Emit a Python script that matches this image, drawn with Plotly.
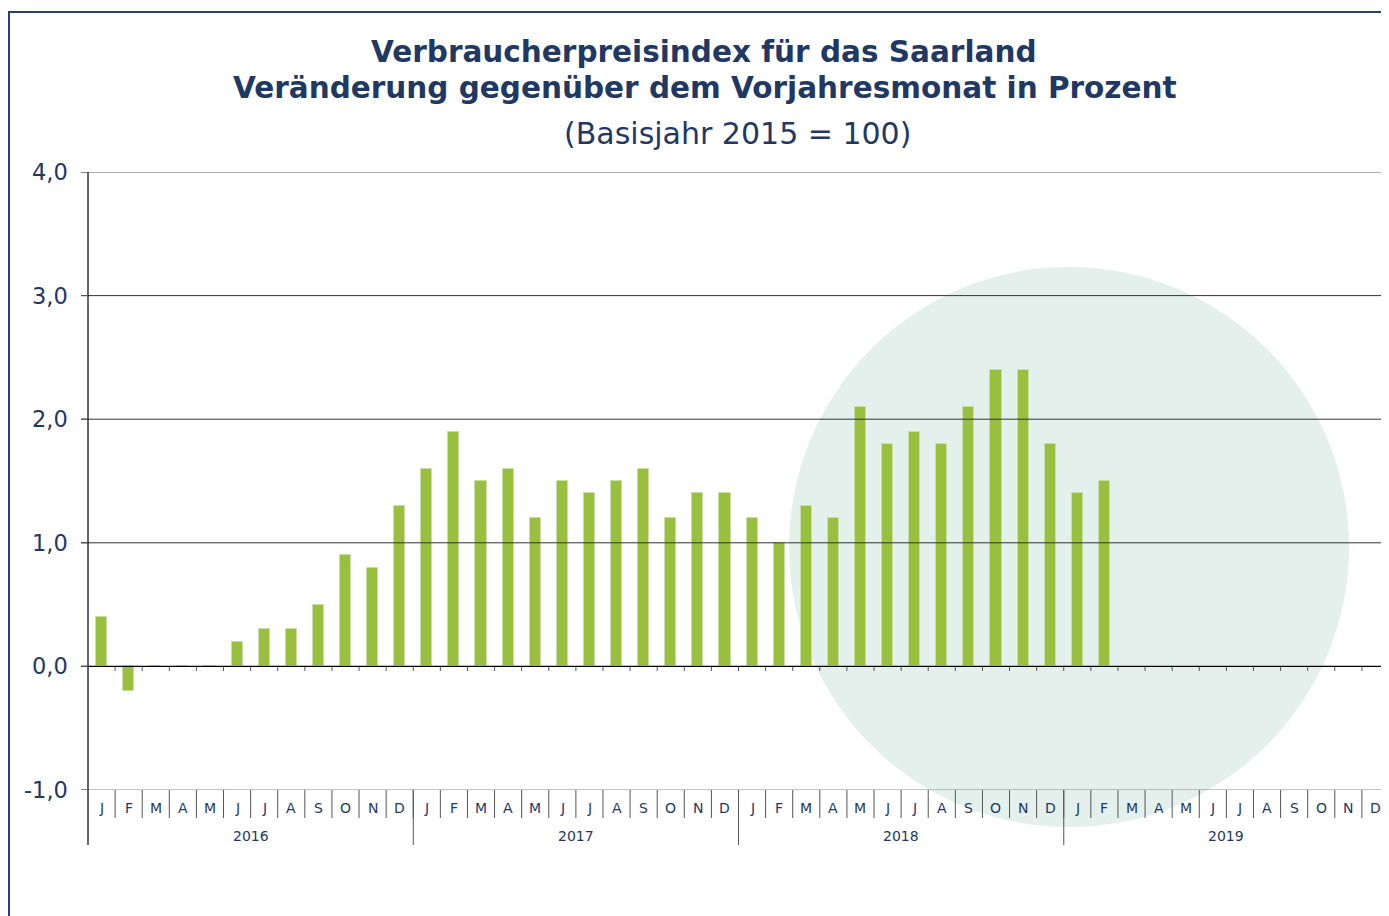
import plotly.graph_objects as go

months = ["J", "F", "M", "A", "M", "J", "J", "A", "S", "O", "N", "D"]
years = ["2016", "2017", "2018", "2019"]
values = [
    0.4, -0.2, 0.0, 0.0, 0.0, 0.2, 0.3, 0.3, 0.5, 0.9, 0.8, 1.3,
    1.6, 1.9, 1.5, 1.6, 1.2, 1.5, 1.4, 1.5, 1.6, 1.2, 1.4, 1.4,
    1.2, 1.0, 1.3, 1.2, 2.1, 1.8, 1.9, 1.8, 2.1, 2.4, 2.4, 1.8,
    1.4, 1.5, None, None, None, None, None, None, None, None, None, None,
]
y_ticks = [-1, 0, 1, 2, 3, 4]
y_labels = ["-1,0", "0,0", "1,0", "2,0", "3,0", "4,0"]

NAVY = "#1f3864"
OFF = 8  # page body margin offset (screen px -> figure px)
W, H = 1389 - OFF, 916 - OFF
L, R, T = 88 - OFF, 0, 172 - OFF
B = H - (790 - OFF)
PW = W - L - R
PH = H - T - B

def py(px):  # screen pixel y -> paper y
    return (H - B - (px - OFF)) / PH

def pxx(px):  # screen pixel x -> paper x
    return ((px - OFF) - L) / PW

n = len(values)
xs = [i + 0.5 for i in range(n)]

fig = go.Figure()
fig.add_trace(go.Bar(
    x=xs, y=values, width=0.41,
    marker=dict(color="#99bf3f", line=dict(color="#c8dfa6", width=1)),
    hoverinfo="skip",
))

shapes = []
shapes.append(dict(type="circle", xref="paper", yref="paper", layer="below",
                   x0=pxx(789), x1=pxx(1349), y0=py(827), y1=py(267),
                   fillcolor="#e4f0ec", line=dict(width=0)))
shapes.append(dict(type="rect", xref="paper", yref="paper", layer="above",
                   x0=pxx(9), x1=pxx(1420), y0=py(960), y1=py(12),
                   line=dict(color="#2b3f6b", width=2), fillcolor="rgba(0,0,0,0)"))
for v in [1, 2, 3, 4]:
    shapes.append(dict(type="line", xref="paper", yref="y", layer="above" if v < 4 else "below",
                       x0=pxx(81), x1=1.0, y0=v, y1=v,
                       line=dict(color="#333333" if v < 4 else "#666666", width=1)))
shapes.append(dict(type="line", xref="paper", yref="y", layer="above",
                   x0=pxx(81), x1=1.0, y0=0, y1=0, line=dict(color="#000000", width=1.2)))
shapes.append(dict(type="line", xref="paper", yref="y", layer="above",
                   x0=pxx(81), x1=1.0, y0=-1, y1=-1, line=dict(color="#888888", width=1.2)))
shapes.append(dict(type="line", xref="paper", yref="paper", layer="above",
                   x0=0, x1=0, y0=py(845), y1=1.0, line=dict(color="#000000", width=1.2)))
for v in y_ticks:
    shapes.append(dict(type="line", xref="paper", yref="y", layer="above",
                       x0=pxx(81), x1=0, y0=v, y1=v, line=dict(color="#555555", width=1)))
for i in range(1, n + 1):
    shapes.append(dict(type="line", xref="x", yref="paper", layer="above",
                       x0=i, x1=i, y0=py(818), y1=py(790), line=dict(color="#555555", width=1)))
    shapes.append(dict(type="line", xref="x", yref="paper", layer="above",
                       x0=i, x1=i, y0=py(671), y1=py(667), line=dict(color="#555555", width=1)))
for k in range(1, len(years)):
    shapes.append(dict(type="line", xref="x", yref="paper", layer="above",
                       x0=12 * k, x1=12 * k, y0=py(845), y1=py(790), line=dict(color="#555555", width=1)))

annotations = []
for i in range(n):
    annotations.append(dict(x=i + 0.5, y=py(808), xref="x", yref="paper", text=months[i % 12],
                            showarrow=False, font=dict(family="DejaVu Sans", size=14, color=NAVY),
                            xanchor="center", yanchor="middle"))
for k, yr in enumerate(years):
    annotations.append(dict(x=12 * k + 6, y=py(836), xref="x", yref="paper", text=yr,
                            showarrow=False, font=dict(family="DejaVu Sans", size=14, color=NAVY),
                            xanchor="center", yanchor="middle"))
for v, lab in zip(y_ticks, y_labels):
    annotations.append(dict(x=pxx(70), y=v, xref="paper", yref="y", text=lab, showarrow=False,
                            font=dict(family="DejaVu Sans", size=22.5, color=NAVY),
                            xanchor="right", yanchor="middle"))
annotations.append(dict(x=pxx(704), y=py(52), xref="paper", yref="paper",
                        text="<b>Verbraucherpreisindex für das Saarland</b>", showarrow=False,
                        font=dict(family="DejaVu Sans", size=29.5, color=NAVY), xanchor="center", yanchor="middle"))
annotations.append(dict(x=pxx(705), y=py(88), xref="paper", yref="paper",
                        text="<b>Veränderung gegenüber dem Vorjahresmonat in Prozent</b>", showarrow=False,
                        font=dict(family="DejaVu Sans", size=29.5, color=NAVY), xanchor="center", yanchor="middle"))
annotations.append(dict(x=pxx(737), y=py(134), xref="paper", yref="paper",
                        text="(Basisjahr 2015 = 100)", showarrow=False,
                        font=dict(family="DejaVu Sans", size=30, color=NAVY), xanchor="center", yanchor="middle"))

fig.update_layout(
    width=W, height=H,
    margin=dict(l=L, r=R, t=T, b=B, pad=0),
    paper_bgcolor="white", plot_bgcolor="rgba(0,0,0,0)",
    showlegend=False,
    bargap=0,
    xaxis=dict(range=[0, n], showgrid=False, zeroline=False, showticklabels=False,
               showline=False, ticks="", fixedrange=True),
    yaxis=dict(range=[-1, 4], showgrid=False, zeroline=False, showticklabels=False,
               showline=False, ticks="", fixedrange=True),
    shapes=shapes,
    annotations=annotations,
)

fig.write_html("out.html")
